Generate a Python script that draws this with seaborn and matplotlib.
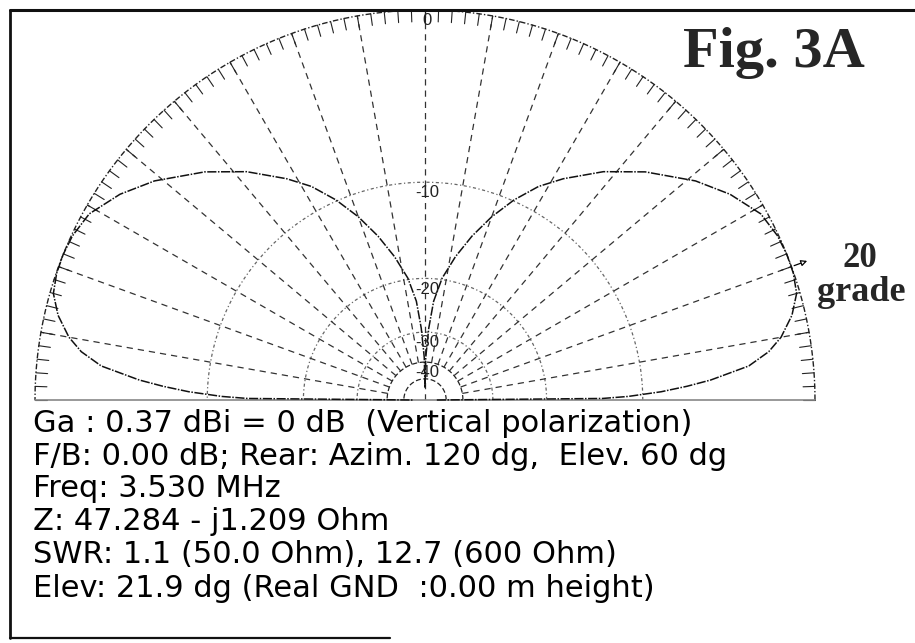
import numpy as np
import pandas as pd
import matplotlib
matplotlib.use("Agg")
import matplotlib.pyplot as plt
from matplotlib.lines import Line2D
import seaborn as sns

# elevation pattern, right half (deg above horizon -> dB rel. max), mirrored for the left half
elev_deg = [0, 0.5, 1, 2, 3, 4, 6, 8, 10, 13, 16, 19, 21.9, 25, 29, 34, 39, 46,
            52, 58, 62, 66, 70, 74, 78, 82, 85, 87, 89, 90]
gain_db = [-60, -13.5, -11.2, -8.6, -6.8, -5.3, -3.1, -2.0, -1.3, -0.6, -0.15, -0.02,
           0, -0.05, -0.27, -1.0, -1.95, -3.55, -5.1, -6.9, -8.2, -9.9, -11.9, -14.2,
           -16.8, -19.8, -23.5, -29, -38, -60]

ring_db = [0, -10, -20, -30, -40, -50]
ring_labels = ["0", "-10", "-20", "-30", "-40"]
radial_deg = list(range(10, 180, 10))
tick_deg = list(range(0, 181, 2))
marker_deg = 20

fig_title = "Fig. 3A"
marker_text = ["20", "grade"]
info_lines = [
    "Ga : 0.37 dBi = 0 dB  (Vertical polarization)",
    "F/B: 0.00 dB; Rear: Azim. 120 dg,  Elev. 60 dg",
    "Freq: 3.530 MHz",
    "Z: 47.284 - j1.209 Ohm",
    "SWR: 1.1 (50.0 Ohm), 12.7 (600 Ohm)",
    "Elev: 21.9 dg (Real GND  :0.00 m height)",
]


def arrl_r(db):
    # ARRL log scale: 0.89 per 2 dB
    return 0.89 ** (-np.asarray(db, dtype=float) / 2.0)


sns.set_style("white")
plt.rcParams["font.family"] = ["DejaVu Sans"]

W, H = 915, 643
fig = plt.figure(figsize=(W / 100, H / 100), dpi=100)
fig.patch.set_facecolor("white")

cx, cy, R = 425, 400, 390
ax = fig.add_axes([(cx - R) / W, (H - cy) / H, 2 * R / W, R / H])
ax.set_xlim(-1, 1)
ax.set_ylim(0, 1)
ax.axis("off")

# pattern
right = pd.DataFrame({"el": elev_deg, "db": gain_db})
left = right.iloc[::-1].copy()
left["el"] = 180 - left["el"]
patt = pd.concat([right, left], ignore_index=True)
patt["r"] = arrl_r(patt["db"])
patt["x"] = patt["r"] * np.cos(np.deg2rad(patt["el"]))
patt["y"] = patt["r"] * np.sin(np.deg2rad(patt["el"]))

# grid rings
th = np.linspace(0, np.pi, 361)
for db in ring_db:
    r = arrl_r(db)
    if db == 0:
        ax.plot(r * np.cos(th), r * np.sin(th), color="#222222", lw=1.0,
                ls=(0, (4, 1.5, 1, 1.5)), clip_on=False)
    elif db >= -30:
        ax.plot(r * np.cos(th), r * np.sin(th), color="#666666", lw=0.9,
                ls=(0, (2.5, 2, 1, 2)), clip_on=False)
    else:
        ax.plot(r * np.cos(th), r * np.sin(th), color="#222222", lw=0.9,
                ls=(0, (4, 2)), clip_on=False)

# radials (start at the -40 dB ring)
r0 = arrl_r(-40)
for a in radial_deg:
    t = np.deg2rad(a)
    start = 0 if a == 90 else r0
    ax.plot([start * np.cos(t), np.cos(t)], [start * np.sin(t), np.sin(t)],
            color="#333333", lw=0.9, ls=(0, (5, 4)))

# outer ticks
for a in tick_deg:
    t = np.deg2rad(a)
    ax.plot([np.cos(t), 0.97 * np.cos(t)], [np.sin(t), 0.97 * np.sin(t)],
            color="#222222", lw=0.8, clip_on=False)

# baseline
ax.plot([-1, 1], [0, 0], color="#888888", lw=1.2, clip_on=False)

sns.lineplot(data=patt, x="x", y="y", sort=False, estimator=None, ax=ax,
             color="#111111", lw=1.1, legend=False)
ax.lines[-1].set_linestyle((0, (6, 1, 1, 1)))
ax.lines[-1].set_clip_on(False)
ax.set_xlim(-1, 1)
ax.set_ylim(0, 1)
ax.axis("off")

for db, lab in zip(ring_db, ring_labels):
    ax.text(0.005, arrl_r(db) - 0.008, lab, ha="center", va="top",
            fontsize=12, family="Liberation Sans", color="#222222")

# max-elevation marker
t = np.deg2rad(marker_deg)
ax.annotate("", xy=(1.05 * np.cos(t), 1.05 * np.sin(t)),
            xytext=(np.cos(t), np.sin(t)),
            arrowprops=dict(arrowstyle="-|>", mutation_scale=9, lw=0.9,
                            color="black", fc="white"),
            annotation_clip=False)

serif = ["Liberation Serif", "DejaVu Serif"]
fig.text(683 / W, 1 - 67 / H, fig_title, ha="left", va="baseline",
         fontsize=42, fontweight="bold", family=serif)
fig.text(842 / W, 1 - 267 / H, marker_text[0], ha="left", va="baseline",
         fontsize=25, fontweight="bold", family=serif)
fig.text(817 / W, 1 - 301 / H, marker_text[1], ha="left", va="baseline",
         fontsize=26, fontweight="bold", family=serif)

baselines = [432, 465, 497, 530, 563, 597]
for yb, line in zip(baselines, info_lines):
    fig.text(33 / W, 1 - yb / H, line, ha="left", va="baseline",
             fontsize=22, family="DejaVu Sans", color="black")

# frame
for xs, ys, lw in [([10, 10], [10, 638], 2.0), ([10, 915], [10, 10], 2.2),
                   ([10, 390], [638, 638], 1.6)]:
    fig.add_artist(Line2D([x / W for x in xs], [1 - y / H for y in ys],
                          transform=fig.transFigure, color="#111111", lw=lw))

fig.savefig("out.png", dpi=100, facecolor="white")
